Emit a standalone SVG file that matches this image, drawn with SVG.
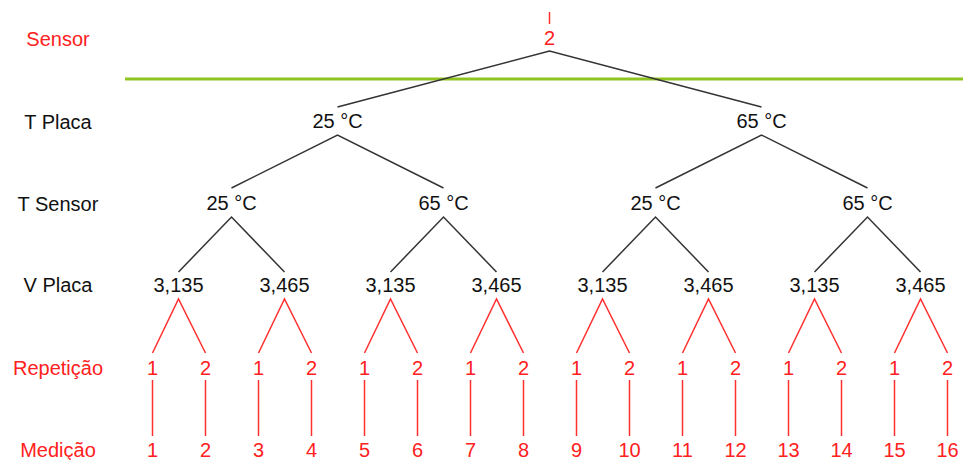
<svg xmlns="http://www.w3.org/2000/svg" width="963" height="460" viewBox="0 0 963 460">
<style>
text{font-family:"Liberation Sans",Arial,sans-serif;font-size:20px;text-anchor:middle}
.k{fill:#111}
.r{fill:#ff2020}
.lk{stroke:#333;stroke-width:1.5;fill:none}
.lr{stroke:#ff3030;stroke-width:1.5;fill:none}
</style>
<rect width="963" height="460" fill="#fff"/>
<line x1="125" y1="79" x2="963" y2="79" stroke="#8fc31f" stroke-width="3"/>
<g id="labels">
<text class="r" x="58" y="46">Sensor</text>
<text class="k" x="58" y="129">T Placa</text>
<text class="k" x="58" y="211">T Sensor</text>
<text class="k" x="58" y="292">V Placa</text>
<text class="r" x="58" y="375">Repetição</text>
<text class="r" x="58" y="457">Medição</text>
</g>
<g id="connectors">
<line class="lr" x1="549.5" y1="12" x2="549.5" y2="24"/>
<path class="lk" d="M337.5,107 L549.5,51 L761.5,107"/>
<path class="lk" d="M231.5,188 L337.5,135 L443.5,188 M655.5,188 L761.5,135 L867.5,188"/>
<path class="lk" d="M178.5,272 L231.5,217 L284.5,272 M390.5,272 L443.5,217 L496.5,272 M602.5,272 L655.5,217 L708.5,272 M814.5,272 L867.5,217 L920.5,272"/>
<path class="lr" d="M152.5,353 L178.5,299 L205.5,353 M258.5,353 L284.5,299 L311.5,353 M364.5,353 L390.5,299 L417.5,353 M470.5,353 L496.5,299 L523.5,353 M576.5,353 L602.5,299 L629.5,353 M682.5,353 L708.5,299 L735.5,353 M788.5,353 L814.5,299 L841.5,353 M894.5,353 L920.5,299 L947.5,353"/>
<path class="lr" d="M152.5,380V436M205.5,380V436M258.5,380V436M311.5,380V436M364.5,380V436M417.5,380V436M470.5,380V436M523.5,380V436M576.5,380V436M629.5,380V436M682.5,380V436M735.5,380V436M788.5,380V436M841.5,380V436M894.5,380V436M947.5,380V436"/>
</g>
<g id="root"><text class="r" x="549.5" y="45">2</text></g>
<g id="tplaca-25"><text class="k" x="337.5" y="128">25 °C</text></g>
<g id="tplaca-65"><text class="k" x="761.5" y="128">65 °C</text></g>
<g id="tsensor-1"><text class="k" x="231.5" y="210">25 °C</text></g>
<g id="tsensor-2"><text class="k" x="443.5" y="210">65 °C</text></g>
<g id="tsensor-3"><text class="k" x="655.5" y="210">25 °C</text></g>
<g id="tsensor-4"><text class="k" x="867.5" y="210">65 °C</text></g>
<g id="vplaca-1"><text class="k" x="178.5" y="292">3,135</text></g>
<g id="vplaca-2"><text class="k" x="284.5" y="292">3,465</text></g>
<g id="vplaca-3"><text class="k" x="390.5" y="292">3,135</text></g>
<g id="vplaca-4"><text class="k" x="496.5" y="292">3,465</text></g>
<g id="vplaca-5"><text class="k" x="602.5" y="292">3,135</text></g>
<g id="vplaca-6"><text class="k" x="708.5" y="292">3,465</text></g>
<g id="vplaca-7"><text class="k" x="814.5" y="292">3,135</text></g>
<g id="vplaca-8"><text class="k" x="920.5" y="292">3,465</text></g>
<g id="repeticao">
<text class="r" x="152.5" y="375">1</text><text class="r" x="205.5" y="375">2</text>
<text class="r" x="258.5" y="375">1</text><text class="r" x="311.5" y="375">2</text>
<text class="r" x="364.5" y="375">1</text><text class="r" x="417.5" y="375">2</text>
<text class="r" x="470.5" y="375">1</text><text class="r" x="523.5" y="375">2</text>
<text class="r" x="576.5" y="375">1</text><text class="r" x="629.5" y="375">2</text>
<text class="r" x="682.5" y="375">1</text><text class="r" x="735.5" y="375">2</text>
<text class="r" x="788.5" y="375">1</text><text class="r" x="841.5" y="375">2</text>
<text class="r" x="894.5" y="375">1</text><text class="r" x="947.5" y="375">2</text>
</g>
<g id="medicao">
<text class="r" x="152.5" y="457">1</text><text class="r" x="205.5" y="457">2</text>
<text class="r" x="258.5" y="457">3</text><text class="r" x="311.5" y="457">4</text>
<text class="r" x="364.5" y="457">5</text><text class="r" x="417.5" y="457">6</text>
<text class="r" x="470.5" y="457">7</text><text class="r" x="523.5" y="457">8</text>
<text class="r" x="576.5" y="457">9</text><text class="r" x="629.5" y="457">10</text>
<text class="r" x="682.5" y="457">11</text><text class="r" x="735.5" y="457">12</text>
<text class="r" x="788.5" y="457">13</text><text class="r" x="841.5" y="457">14</text>
<text class="r" x="894.5" y="457">15</text><text class="r" x="947.5" y="457">16</text>
</g>
</svg>
